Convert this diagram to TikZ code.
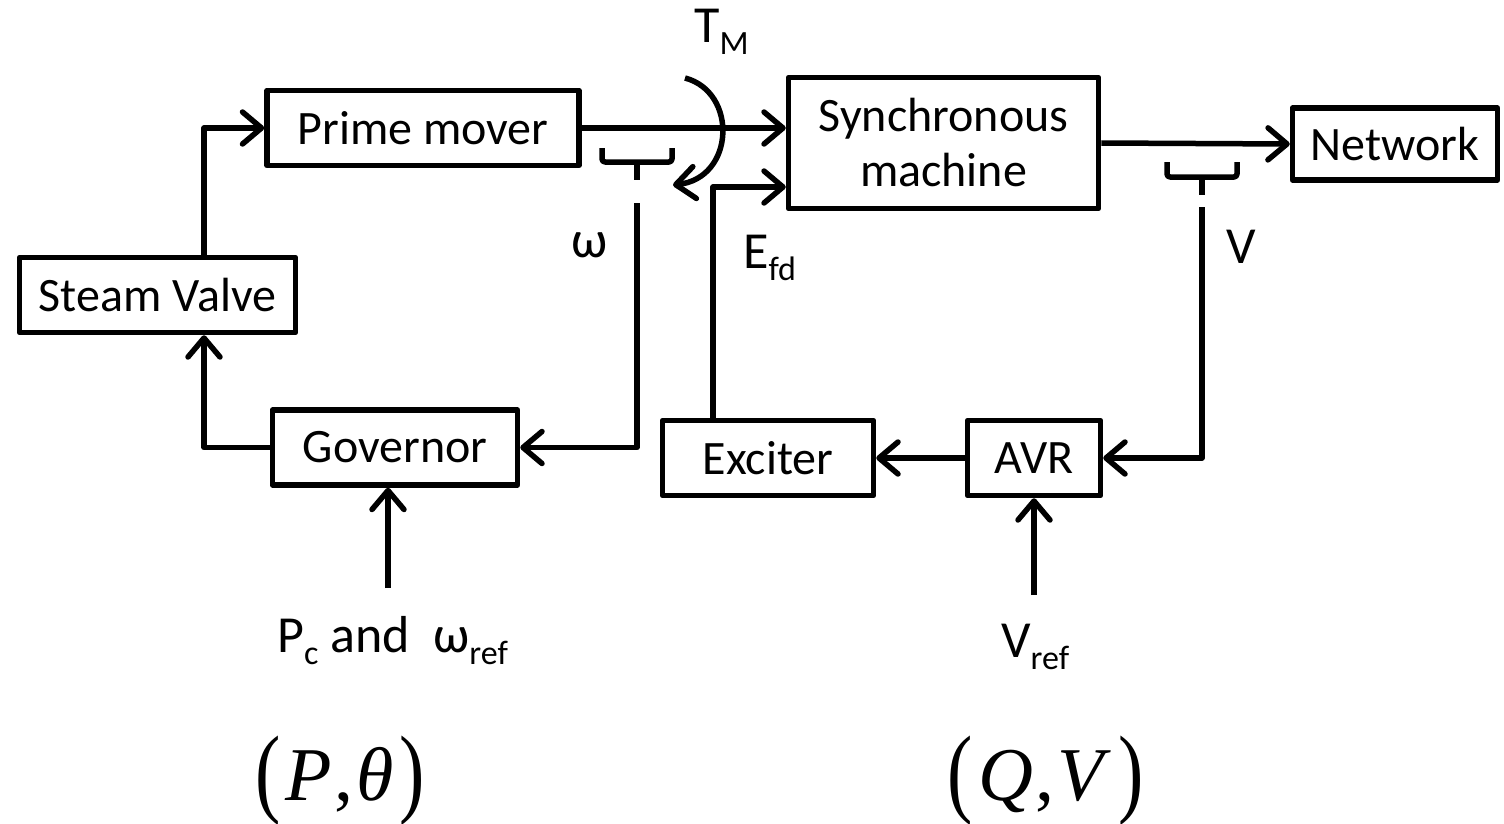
\documentclass[tikz,border=0pt]{standalone}
\usepackage{fontspec}
\usepackage{graphicx}
\setmainfont{Carlito}
\newfontfamily\eqfont{Liberation Serif}
\usetikzlibrary{arrows.meta}
% lowered index set in a smaller size
\newcommand\lowidx[1]{\raisebox{-12pt}{\fontsize{34}{34}\selectfont #1}}
% tall parentheses for the bottom pairs
\newcommand\lpar{\raisebox{-4pt}{\scalebox{1}[1.3]{\upshape (}}\kern5pt}
\newcommand\rpar{\kern6pt\raisebox{-4pt}{\scalebox{1}[1.3]{\upshape )}}}
\tikzset{
  blk/.style={draw, line width=5.5pt, line join=round, minimum height=75pt,
    inner sep=0pt, align=center, font=\fontsize{48}{55}\selectfont},
  conn/.style={line width=5.5pt, line join=round},
  arr/.style={conn, -{Straight Barb[length=19pt,width=32pt,round]}},
  lbl/.style={inner sep=0pt, anchor=base west, font=\fontsize{52}{56}\selectfont},
  pair/.style={inner sep=0pt, anchor=base, font=\fontsize{76}{80}\eqfont},
}
\begin{document}
\begin{tikzpicture}[x=1pt,y=-1pt]
\useasboundingbox (0,0) rectangle (1504,824);

% blocks
\node[blk, minimum width=276pt] (sv) at (157.5,295) {Steam Valve};
\node[blk, minimum width=312pt] (pm) at (423,128) {Prime mover};
\node[blk, minimum width=310pt, minimum height=131pt] (sm) at (943.5,143) {Synchronous\\machine};
\node[blk, minimum width=205pt, minimum height=72pt] (nw) at (1395,144) {Network};
\node[blk, minimum width=245pt] (gov) at (395,447.5) {Governor};
\node[blk, minimum width=211pt] (exc) at (768,458) {Exciter};
\node[blk, minimum width=133pt] (avr) at (1034,458) {AVR};

% speed / power loop
\coordinate (xv) at (204,0);
\draw[arr] (sv.north -| xv) |- (pm.west);
\draw[arr] (gov.west) -| (sv.south -| xv);
\draw[arr] (pm.east) -- (pm.east -| sm.west);
\coordinate (pin) at (388,588);
\draw[arr] (pin) -- (pin |- gov.south);

% speed pick-off
\draw[conn, rounded corners=3pt] (602,148) -- (602,162) -- (672,162) -- (672,148);
\draw[conn] (637,162) -- (637,180);
\coordinate (wtop) at (637,203);
\draw[arr] (wtop) |- (gov.east);

% mechanical torque
\coordinate (ta) at (685,78);
\coordinate (tb) at (673,185);
\draw[arr] (ta) .. controls (738,92) and (735,178) .. (tb);

% excitation loop
\coordinate (xe) at (713,187);
\draw[arr] (exc.north -| xe) |- (sm.west |- xe);
\draw[arr] (sm.east) -- (nw.west);
\draw[conn, rounded corners=3pt] (1167,162) -- (1167,177) -- (1237,177) -- (1237,162);
\draw[conn] (1202,177) -- (1202,195);
\coordinate (vtop) at (1202,207);
\draw[arr] (vtop) |- (avr.east);
\draw[arr] (avr.west) -- (exc.east);
\coordinate (vin) at (1034,595);
\draw[arr] (vin) -- (avr.south);

% signal labels
\node[lbl] (tm) at (694,43) {T\lowidx{M}};
\node[lbl] (wl) at (571,257) {ω};
\node[lbl] (ef) at (743,268) {E\lowidx{fd}};
\node[lbl] (vl) at (1226,263) {V};
\node[lbl] (pc) at (277,652) {P\lowidx{c} and\ \ ω\lowidx{ref}};
\node[lbl] (vr) at (1001,657) {V\lowidx{ref}};

% controlled pairs
\node[pair] (pt) at (340,800) {\lpar\textit{P}\kern2pt,\kern3pt\textit{θ}\rpar};
\node[pair] (qv) at (1046,800) {\lpar\textit{Q}\kern2pt,\kern3pt\textit{V}\kern2pt\rpar};
\end{tikzpicture}
\end{document}
